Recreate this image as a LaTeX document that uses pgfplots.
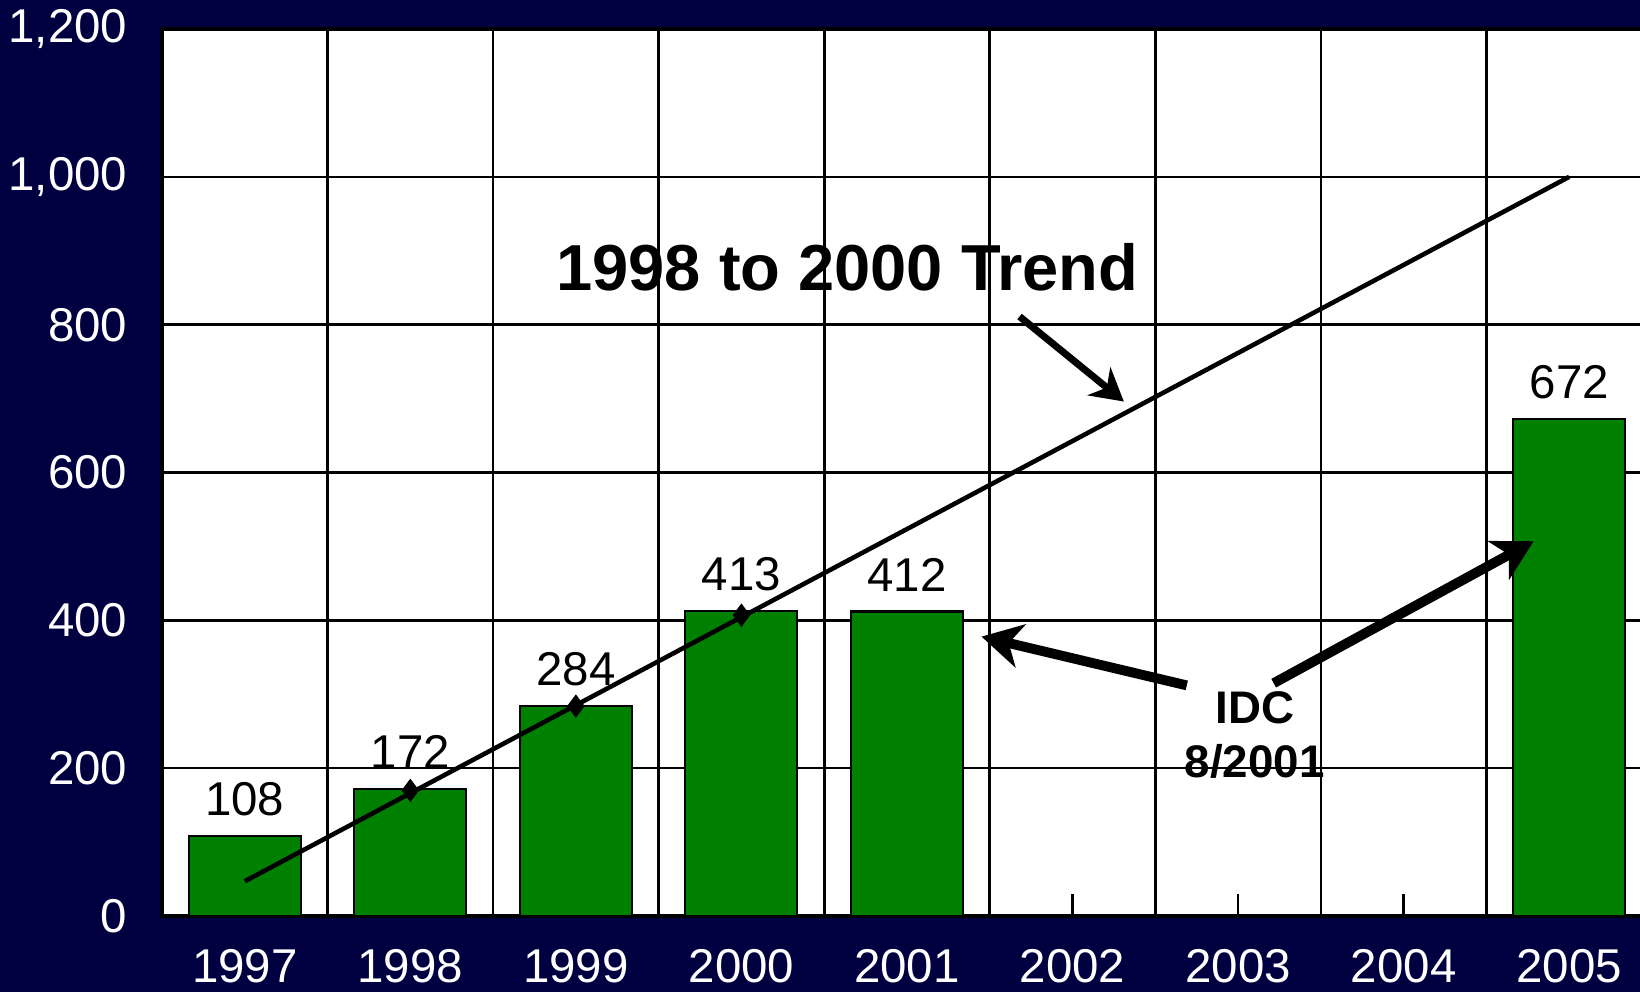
\documentclass[border=0pt]{standalone}
\usepackage{fontspec}
\setmainfont{Liberation Sans}
\usepackage{pgfplots}
\pgfplotsset{compat=1.18}
\usetikzlibrary{arrows.meta}
\definecolor{bgnavy}{HTML}{000040}
\definecolor{bargreen}{HTML}{008000}
% grid behind the bars, tick marks and frame over them
\pgfplotsset{layers/barsover/.define layer set={axis background,axis grid,main,axis ticks,axis lines,axis tick labels,axis descriptions,axis foreground}{}}
\newcommand{\lbl}{\fontsize{13.5}{16}\selectfont}

\begin{document}
\begin{tikzpicture}
\fill[bgnavy] (0,0) rectangle (164mm,99.2mm);
\begin{axis}[
  set layers=barsover,
  axis background/.style={fill=white},
  at={(16.2mm,7.6mm)}, anchor=south west,
  scale only axis, width=149mm, height=88.7mm,
  xmin=-0.5, xmax=8.5, ymin=0, ymax=1200,
  xtick={0,1,2,3,4,5,6,7,8},
  xticklabels={1997,1998,1999,2000,2001,2002,2003,2004,2005},
  minor xtick={-0.5,0.5,1.5,2.5,3.5,4.5,5.5,6.5,7.5,8.5},
  ytick={0,200,400,600,800,1000,1200},
  xminorgrids=true, ymajorgrids=true,
  grid style={black, line width=0.75pt},
  minor grid style={black, line width=0.75pt},
  axis line style={black, line width=1pt},
  tickpos=left, tick align=inside,
  major tick length=2.2mm, minor tick length=0pt,
  xtick style={black, line width=0.75pt},
  ytick style={draw=none},
  /pgf/number format/1000 sep={,},
  /pgf/number format/assume math mode=true,
  tick label style={white, font=\lbl, inner sep=0pt},
  xticklabel style={anchor=north, yshift=-3.3mm},
  yticklabel style={anchor=east, xshift=-3.4mm},
]
\addplot[ybar, bar width=11.2mm, fill=bargreen, draw=black, line width=0.6pt,
  nodes near coords,
  every node near coord/.append style={black, font=\lbl, anchor=south, inner sep=0pt, yshift=1.9mm}]
  coordinates {(0,108) (1,172) (2,284) (3,413) (4,412) (8,672)};
\addplot[black, line width=1.3pt] coordinates {(0,47) (8,1000)};
\addplot[only marks, mark=diamond*, mark size=3pt, black] coordinates {(1,170) (2,284) (3,407)};

\node[font=\fontsize{18.5}{22}\selectfont\bfseries] at (axis cs:3.64,877) {1998 to 2000 Trend};
\draw[-{Stealth[length=3.2mm, width=3.6mm, inset=1mm]}, line width=2pt] (axis cs:4.68,811) -- (axis cs:5.31,696);

\node[font=\fontsize{13}{15.4}\selectfont\bfseries, align=center] at (axis cs:6.10,245) {IDC\\8/2001};
\draw[-{Stealth[length=4mm, width=4.4mm, inset=1.2mm]}, line width=2.8pt] (axis cs:5.69,312) -- (axis cs:4.45,378);
\draw[-{Stealth[length=4mm, width=4.4mm, inset=1.2mm]}, line width=2.8pt] (axis cs:6.215,315) -- (axis cs:7.785,507);
\end{axis}
\pgfresetboundingbox
\path[use as bounding box] (0,0) rectangle (164mm,99.2mm);
\end{tikzpicture}
\end{document}
